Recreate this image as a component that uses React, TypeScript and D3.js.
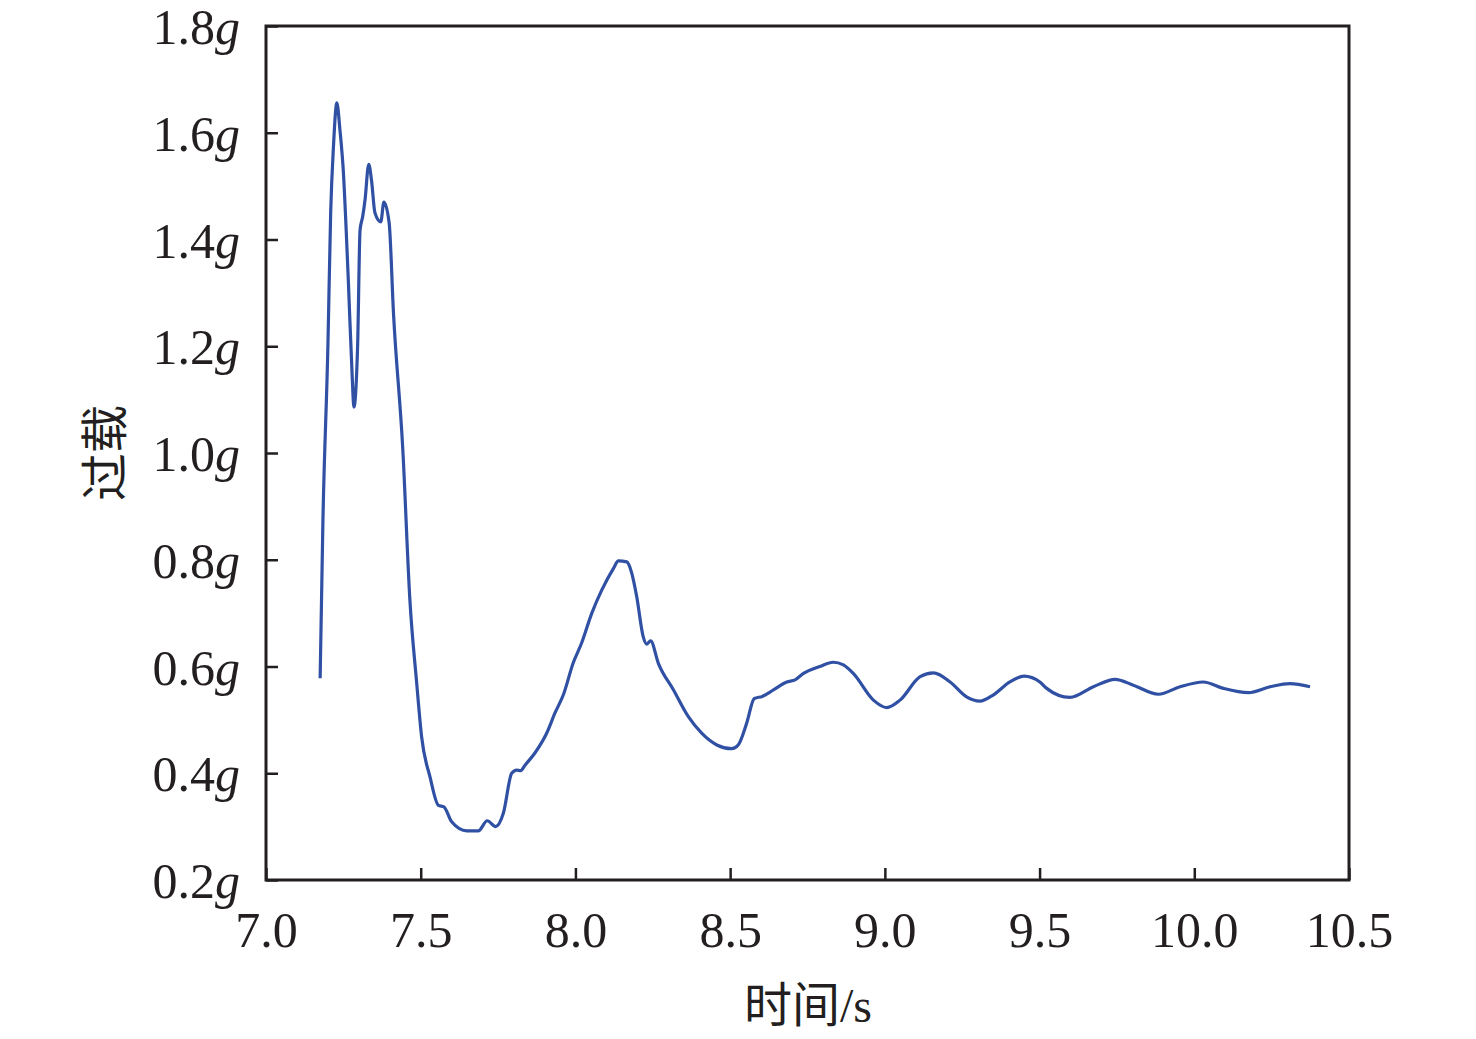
import { useEffect, useRef } from 'react';
import * as d3 from 'd3';

// time (s) and overload (g)
const times = [
  7.175, 7.184, 7.2, 7.209, 7.218, 7.229, 7.239, 7.249, 7.266, 7.279, 7.284, 7.296,
  7.304, 7.3125, 7.32, 7.332, 7.341, 7.352, 7.371, 7.381, 7.398, 7.412, 7.442, 7.465,
  7.487, 7.503, 7.53, 7.557, 7.575, 7.6, 7.649, 7.686, 7.715, 7.742, 7.767, 7.794,
  7.81, 7.823, 7.837, 7.869, 7.907, 7.934, 7.961, 7.993, 8.02, 8.053, 8.085, 8.123,
  8.139, 8.166, 8.182, 8.198, 8.219, 8.23, 8.243, 8.268, 8.317, 8.365, 8.408, 8.457,
  8.505, 8.526, 8.553, 8.578, 8.604, 8.64, 8.683, 8.71, 8.737, 8.79, 8.833, 8.866,
  8.898, 8.963, 9.006, 9.049, 9.114, 9.157, 9.211, 9.264, 9.307, 9.351, 9.404, 9.45,
  9.501, 9.523, 9.598, 9.674, 9.744, 9.803, 9.884, 9.954, 10.029, 10.094, 10.175,
  10.245, 10.309, 10.374,
];
const overload = [
  0.578, 0.874, 1.199, 1.45, 1.574, 1.656, 1.605, 1.536, 1.324, 1.137, 1.086, 1.199,
  1.418, 1.443, 1.474, 1.541, 1.511, 1.45, 1.433, 1.47, 1.431, 1.262, 1.008, 0.725,
  0.569, 0.468, 0.393, 0.34, 0.337, 0.309, 0.292, 0.292, 0.311, 0.3, 0.325, 0.4,
  0.406, 0.405, 0.415, 0.438, 0.475, 0.513, 0.547, 0.607, 0.644, 0.7, 0.743, 0.784,
  0.798, 0.796, 0.775, 0.731, 0.656, 0.642, 0.648, 0.606, 0.556, 0.506, 0.475, 0.453,
  0.446, 0.453, 0.493, 0.54, 0.544, 0.556, 0.571, 0.575, 0.587, 0.6, 0.608, 0.603,
  0.587, 0.537, 0.523, 0.537, 0.581, 0.588, 0.571, 0.543, 0.535, 0.547, 0.571, 0.582,
  0.571, 0.559, 0.542, 0.562, 0.576, 0.565, 0.548, 0.562, 0.571, 0.559, 0.551,
  0.562, 0.568, 0.562,
];
const xTicks = [7.0, 7.5, 8.0, 8.5, 9.0, 9.5, 10.0, 10.5];
const yTicks = [0.2, 0.4, 0.6, 0.8, 1.0, 1.2, 1.4, 1.6, 1.8];

const W = 1476;
const H = 1039;
const margin = { top: 26, right: 127, bottom: 159, left: 266 };
const serif = '"Liberation Serif", "Times New Roman", serif';
const cjk = '"Noto Sans CJK SC", sans-serif';
const ink = '#231f20';

export default function App() {
  const svgRef = useRef<SVGSVGElement>(null);

  useEffect(() => {
    if (!svgRef.current) return;
    d3.select(svgRef.current).selectAll('*').remove();

    const width = W - margin.left - margin.right;
    const height = H - margin.top - margin.bottom;

    const svg = d3.select(svgRef.current);
    const g = svg.append('g').attr('transform', `translate(${margin.left},${margin.top})`);

    const x = d3.scaleLinear().domain([7.0, 10.5]).range([0, width]);
    const y = d3.scaleLinear().domain([0.2, 1.8]).range([height, 0]);

    // frame
    g.append('rect')
      .attr('width', width)
      .attr('height', height)
      .attr('fill', 'none')
      .attr('stroke', ink)
      .attr('stroke-width', 3);

    // x axis, ticks point inward
    const xAxis = g.append('g')
      .attr('transform', `translate(0,${height})`)
      .call(d3.axisBottom(x).tickValues(xTicks).tickSizeInner(-12).tickSizeOuter(0).tickFormat(d3.format('.1f')));
    xAxis.select('.domain').remove();
    xAxis.selectAll('line').attr('stroke', ink).attr('stroke-width', 2.5);
    xAxis.selectAll('text')
      .attr('y', 67)
      .attr('dy', 0)
      .attr('fill', ink)
      .style('font-family', serif)
      .style('font-size', '50px');

    // y axis
    const yAxis = g.append('g')
      .call(d3.axisLeft(y).tickValues(yTicks).tickSizeInner(-12).tickSizeOuter(0));
    yAxis.select('.domain').remove();
    yAxis.selectAll('line').attr('stroke', ink).attr('stroke-width', 2.5);
    yAxis.selectAll<SVGTextElement, number>('text')
      .attr('x', -26)
      .attr('dy', '0.35em')
      .attr('fill', ink)
      .style('font-family', serif)
      .style('font-size', '50px')
      .each(function (d) {
        const t = d3.select(this);
        t.text(null);
        t.append('tspan').text(d3.format('.1f')(d));
        t.append('tspan').style('font-style', 'italic').text('g');
      });

    // curve
    const pts = times.map((t, i) => [t, overload[i]] as [number, number]);
    const line = d3.line<[number, number]>()
      .x(d => x(d[0]))
      .y(d => y(d[1]))
      .curve(d3.curveMonotoneX);
    g.append('path')
      .datum(pts)
      .attr('d', line)
      .attr('fill', 'none')
      .attr('stroke', '#3050a4')
      .attr('stroke-width', 3.2)
      .attr('stroke-linejoin', 'round');

    // axis titles
    svg.append('text')
      .attr('x', 808)
      .attr('y', 1022)
      .attr('text-anchor', 'middle')
      .attr('fill', ink)
      .style('font-size', '48px')
      .call(t => {
        t.append('tspan').style('font-family', cjk).text('时间');
        t.append('tspan').style('font-family', serif).text('/s');
      });

    svg.append('text')
      .attr('transform', 'translate(122,453) rotate(-90)')
      .attr('text-anchor', 'middle')
      .attr('fill', ink)
      .style('font-family', cjk)
      .style('font-size', '48px')
      .text('过载');
  }, []);

  return (
    <svg
      ref={svgRef}
      width={W}
      height={H}
      style={{ position: 'absolute', left: 0, top: 0, background: '#fff' }}
    />
  );
}
